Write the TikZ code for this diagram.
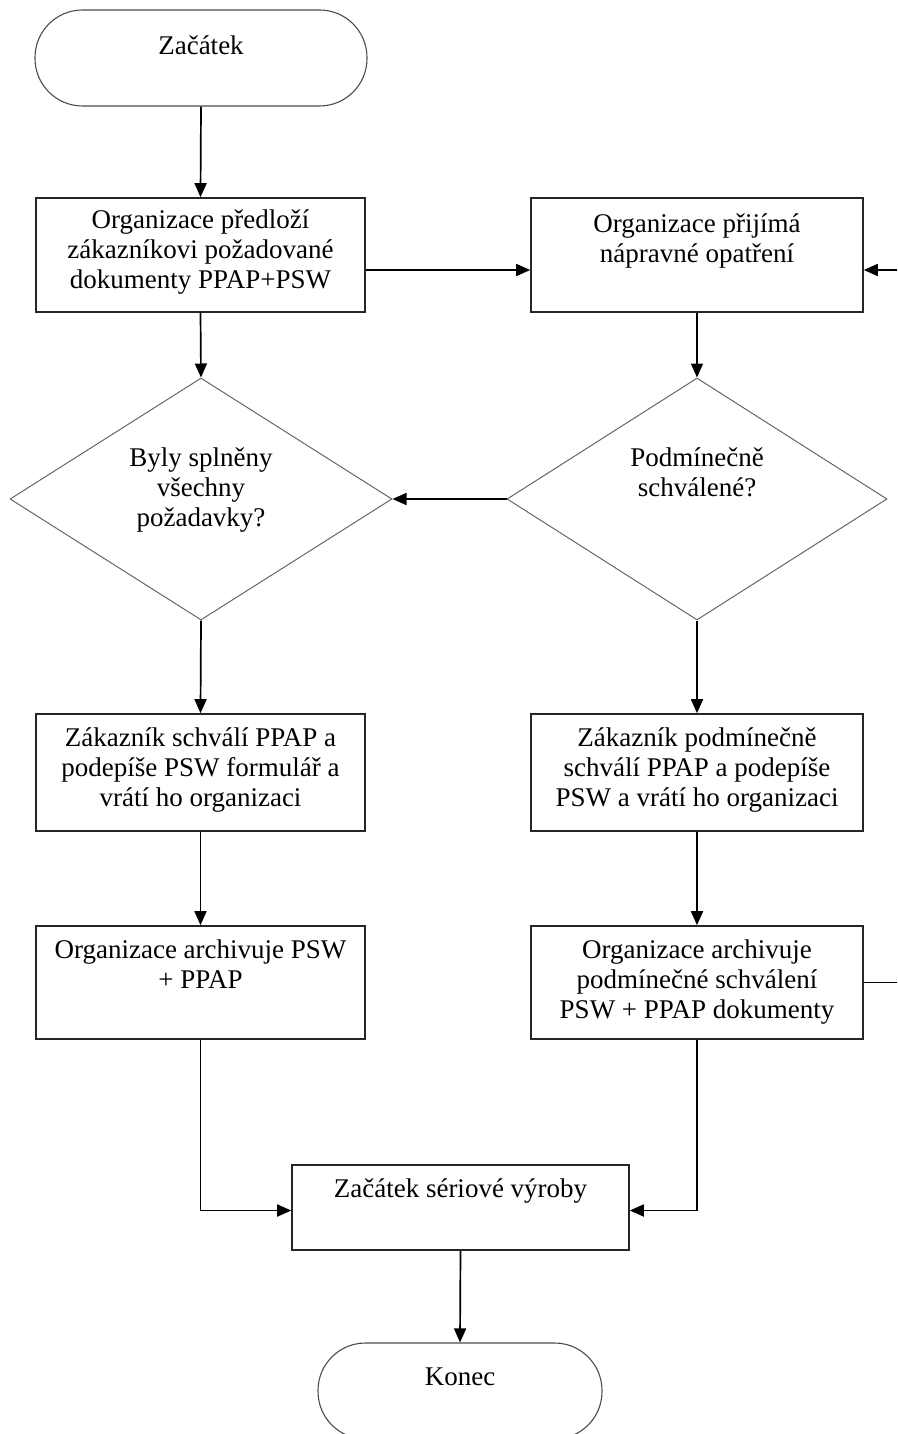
\documentclass[tikz,border=0pt]{standalone}
\usepackage{fontspec}
\setmainfont{Liberation Serif}
\usetikzlibrary{shapes.geometric,arrows.meta}
\begin{document}
\begin{tikzpicture}[x=1pt,y=-1pt,
  box/.style={rectangle, draw=black!85, line width=1.6pt, inner sep=0pt},
  term/.style={rectangle, rounded corners=47.5pt, draw=black!70, line width=1.1pt, inner sep=0pt},
  dec/.style={diamond, draw=black!60, line width=1pt, inner sep=0pt},
  txt/.style={font=\fontsize{27}{30}\selectfont, align=center, inner sep=0pt, anchor=north},
  flow/.style={-{Triangle[length=14pt,width=12pt]}, line width=1.7pt},
  plain/.style={line width=1.7pt}]
\useasboundingbox (0,0) rectangle (897,1434);

% shapes
\node[term, minimum width=332pt, minimum height=96pt] (start) at (201,58) {};
\node[box, minimum width=329pt, minimum height=114pt] (b1) at (200.5,255) {};
\node[box, minimum width=332pt, minimum height=114pt] (b2) at (697,255) {};
\node[dec, minimum width=382pt, minimum height=242pt] (d1) at (201,499) {};
\node[dec, minimum width=380pt, minimum height=242pt] (d2) at (697,499) {};
\node[box, minimum width=329pt, minimum height=117pt] (b3) at (200.5,772.5) {};
\node[box, minimum width=332pt, minimum height=117pt] (b4) at (697,772.5) {};
\node[box, minimum width=329pt, minimum height=113pt] (b5) at (200.5,982.5) {};
\node[box, minimum width=332pt, minimum height=113pt] (b6) at (697,982.5) {};
\node[box, minimum width=337pt, minimum height=85pt] (b7) at (460.5,1207.5) {};
\node[term, minimum width=284pt, minimum height=96pt] (end) at (460,1391) {};

% labels
\node[txt] (tstart) at (201,36) {Začátek};
\node[txt] (tb1) at (200.5,210) {Organizace předloží\\zákazníkovi požadované\\dokumenty PPAP+PSW};
\node[txt] (tb2) at (697,214) {Organizace přijímá\\nápravné opatření};
\node[txt] (td1) at (201,448) {Byly splněny\\všechny\\požadavky?};
\node[txt] (td2) at (697,448) {Podmínečně\\schválené?};
\node[txt] (tb3) at (200.5,728) {Zákazník schválí PPAP a\\podepíše PSW formulář a\\vrátí ho organizaci};
\node[txt] (tb4) at (697,728) {Zákazník podmínečně\\schválí PPAP a podepíše\\PSW a vrátí ho organizaci};
\node[txt] (tb5) at (200.5,940) {Organizace archivuje PSW\\+ PPAP};
\node[txt] (tb6) at (697,940) {Organizace archivuje\\podmínečné schválení\\PSW + PPAP dokumenty};
\node[txt] (tb7) at (460.5,1178) {Začátek sériové výroby};
\node[txt] (tend) at (460,1368) {Konec};

% loop ends leaving the sheet on the right
\coordinate (loopin) at (897,270);
\coordinate (loopout) at (897,982.5);

% connectors
\draw[flow] (start.south) -- (b1.north);
\draw[flow] ([yshift=-15pt]b1.east) -- ([yshift=-15pt]b2.west);
\draw[flow] (loopin) -- (b2.east |- loopin);
\draw[flow] (b1.south) -- (d1.north);
\draw[flow] (b2.south) -- (d2.north);
\draw[flow] (d2.west) -- (d1.east);
\draw[flow] (d1.south) -- (b3.north);
\draw[flow] (d2.south) -- (b4.north);
\draw[flow] (b3.south) -- (b5.north);
\draw[flow] (b4.south) -- (b6.north);
\draw[plain] (b6.east) -- (loopout);
\draw[flow] (b5.south) |- ([yshift=-3pt]b7.west);
\draw[flow] (b6.south) |- ([yshift=-3pt]b7.east);
\draw[flow] (b7.south) -- (end.north);
\end{tikzpicture}
\end{document}
